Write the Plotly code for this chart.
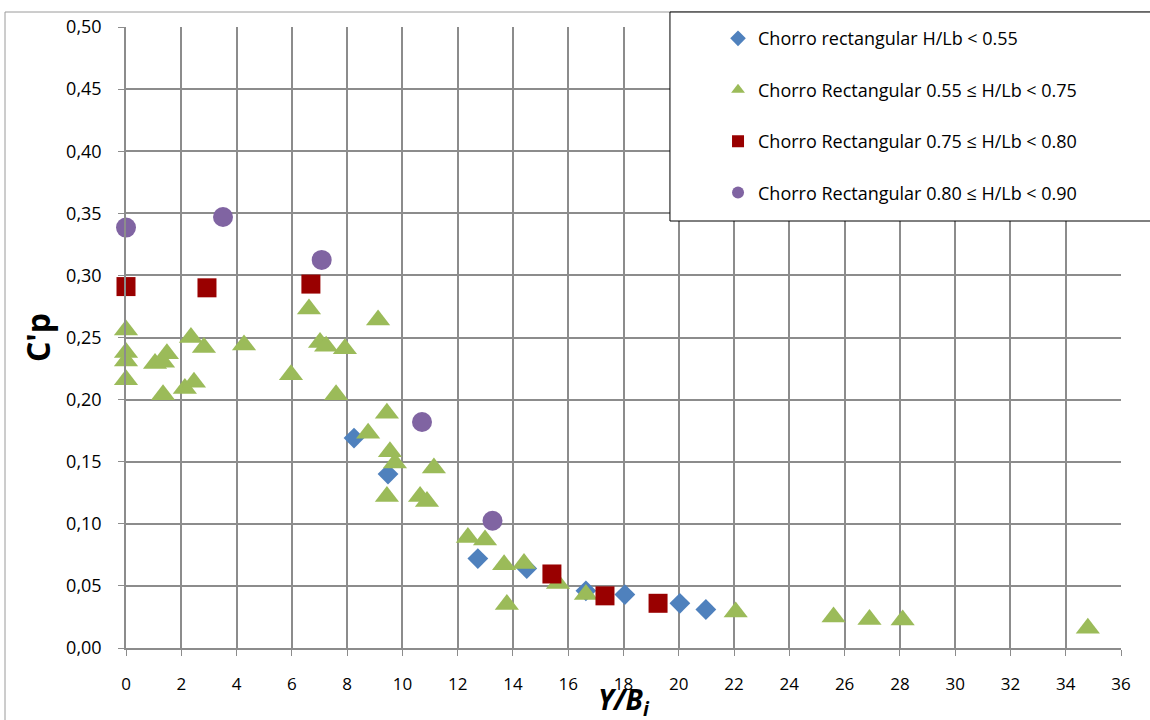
import plotly.graph_objects as go

# Series 1: Chorro rectangular H/Lb < 0.55
blue_x = [8.25, 9.48, 12.73, 14.5, 16.64, 18.05, 20.04, 20.98]
blue_y = [0.169, 0.140, 0.072, 0.064, 0.046, 0.043, 0.036, 0.031]

# Series 2: 0.55 <= H/Lb < 0.75
green_x = [0, 0, 0, 0, 1.05, 1.34, 1.48, 1.34, 2.13, 2.35, 2.46, 2.82, 4.27, 5.97,
           6.62, 7.02, 7.24, 7.6, 7.92, 8.76, 9.12, 9.44, 9.44, 9.55, 9.73, 10.64,
           10.89, 11.14, 12.37, 12.99, 13.68, 13.78, 14.4, 15.63, 16.64, 22.06,
           25.6, 26.9, 28.1, 34.8]
green_y = [0.256, 0.238, 0.231, 0.216, 0.229, 0.230, 0.237, 0.204, 0.209, 0.250,
           0.214, 0.242, 0.244, 0.220, 0.273, 0.246, 0.243, 0.204, 0.241, 0.173,
           0.264, 0.189, 0.122, 0.158, 0.149, 0.122, 0.118, 0.145, 0.089, 0.087,
           0.067, 0.035, 0.068, 0.052, 0.043, 0.029, 0.025, 0.023, 0.0225, 0.016]

# Series 3: 0.75 <= H/Lb < 0.80
red_x = [0, 2.93, 6.69, 15.41, 17.33, 19.25]
red_y = [0.291, 0.290, 0.293, 0.0596, 0.042, 0.036]

# Series 4: 0.80 <= H/Lb < 0.90
purple_x = [0, 3.51, 7.08, 10.71, 13.26]
purple_y = [0.3385, 0.347, 0.3125, 0.182, 0.1025]

names = ["Chorro rectangular H/Lb < 0.55",
         "Chorro Rectangular 0.55 ≤ H/Lb < 0.75",
         "Chorro Rectangular 0.75 ≤ H/Lb < 0.80",
         "Chorro Rectangular 0.80 ≤ H/Lb < 0.90"]

x_ticks = list(range(0, 37, 2))
y_ticks = [0.0, 0.05, 0.10, 0.15, 0.20, 0.25, 0.30, 0.35, 0.40, 0.45, 0.50]

FONT = "Open Sans"
GRID = "#8c8c8c"

fig = go.Figure()
series = [
    (blue_x, blue_y, "diamond", "#4F81BD", 16),
    (green_x, green_y, "triangle-up", "#9BBB59", 21),
    (red_x, red_y, "square", "#990000", 19),
    (purple_x, purple_y, "circle", "#8064A2", 20),
]
for i, (xs, ys, sym, col, sz) in enumerate(series):
    fig.add_trace(go.Scatter(
        x=xs, y=ys, mode="markers", name=names[i], legendgroup=f"g{i}",
        marker=dict(symbol=sym, color=col, size=sz, line=dict(width=0)),
        cliponaxis=False,
    ))

fig.update_layout(
    width=1150, height=720,
    margin=dict(l=126, r=29, t=27, b=72),
    paper_bgcolor="white", plot_bgcolor="white",
    separators=",.",
    font=dict(family=FONT, color="black", size=17),
    showlegend=True,
    legend=dict(
        x=0.595, y=1.011, xanchor="left", yanchor="top",
        bgcolor="rgba(0,0,0,0)", borderwidth=0,
        font=dict(family=FONT, size=18, color="black"),
        tracegroupgap=25, traceorder="grouped", itemsizing="constant",
    ),
    xaxis=dict(
        range=[0, 36], tickvals=x_ticks, ticktext=[str(v) for v in x_ticks],
        showgrid=True, gridcolor=GRID, gridwidth=1.5,
        showline=True, linecolor=GRID, linewidth=1.5,
        ticks="outside", ticklen=6, tickcolor=GRID, tickwidth=1,
        tickfont=dict(family=FONT, size=17), ticklabelstandoff=14,
        zeroline=False,
    ),
    yaxis=dict(
        range=[0, 0.5], tickvals=y_ticks, tickformat=".2f",
        showgrid=True, gridcolor=GRID, gridwidth=1.5,
        showline=True, linecolor=GRID, linewidth=1.5,
        ticks="outside", ticklen=6, tickcolor=GRID, tickwidth=1,
        tickfont=dict(family=FONT, size=18), ticklabelstandoff=13,
        zeroline=False,
        title=dict(text="<b>C'p</b>", font=dict(family=FONT, size=32), standoff=6),
    ),
    annotations=[
        dict(text="<b><i>Y/B<sub>i</sub></i></b>", xref="paper", yref="paper",
             x=0.5, y=-0.085, xanchor="center", yanchor="middle",
             showarrow=False, font=dict(family=FONT, size=28, color="black")),
    ],
    shapes=[
        # outer chart border
        dict(type="rect", xref="paper", yref="paper",
             x0=-0.1216, x1=1.2, y0=-0.3, y1=1.02415,
             line=dict(color="#9a9a9a", width=1), fillcolor="rgba(0,0,0,0)",
             layer="below"),
        # legend box
        dict(type="rect", xref="paper", yref="paper",
             x0=0.5467, x1=1.2, y0=0.6876, y1=1.02415,
             line=dict(color="black", width=1), fillcolor="white",
             layer="above"),
    ],
)

fig.write_html("out.html")
